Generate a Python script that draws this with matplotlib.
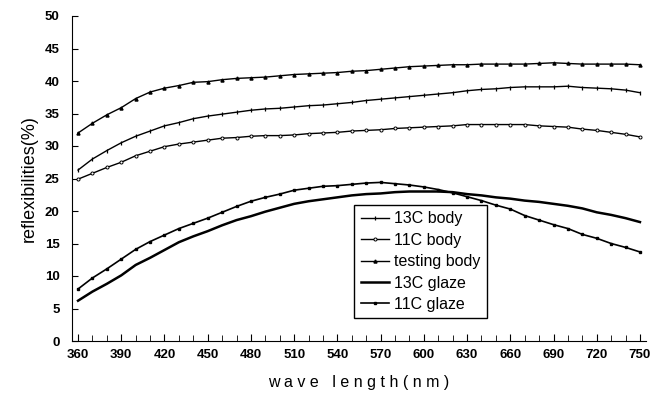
import matplotlib
matplotlib.use('Agg')
import matplotlib.pyplot as plt
from matplotlib.ticker import MultipleLocator

plt.rcParams['font.family'] = ['Liberation Sans', 'DejaVu Sans']

# wavelength grid (nm)
wave = list(range(360, 751, 10))

body_13c = [26.3, 28.0, 29.3, 30.5, 31.5, 32.3, 33.1, 33.6, 34.2, 34.6,
            34.9, 35.2, 35.5, 35.7, 35.8, 36.0, 36.2, 36.3, 36.5, 36.7,
            37.0, 37.2, 37.4, 37.6, 37.8, 38.0, 38.2, 38.5, 38.7, 38.8,
            39.0, 39.1, 39.1, 39.1, 39.2, 39.0, 38.9, 38.8, 38.6, 38.2]
body_11c = [24.9, 25.8, 26.7, 27.5, 28.5, 29.2, 29.9, 30.3, 30.6, 30.9,
            31.2, 31.3, 31.5, 31.6, 31.6, 31.7, 31.9, 32.0, 32.1, 32.3,
            32.4, 32.5, 32.7, 32.8, 32.9, 33.0, 33.1, 33.3, 33.3, 33.3,
            33.3, 33.3, 33.1, 33.0, 32.9, 32.6, 32.4, 32.1, 31.8, 31.4]
testing_body = [32.0, 33.5, 34.8, 35.9, 37.3, 38.3, 38.9, 39.3, 39.8, 39.9,
                40.2, 40.4, 40.5, 40.6, 40.8, 41.0, 41.1, 41.2, 41.3, 41.5,
                41.6, 41.8, 42.0, 42.2, 42.3, 42.4, 42.5, 42.5, 42.6, 42.6,
                42.6, 42.6, 42.7, 42.8, 42.7, 42.6, 42.6, 42.6, 42.6, 42.5]
glaze_13c = [6.2, 7.6, 8.8, 10.1, 11.7, 12.8, 14.0, 15.2, 16.1, 16.9,
             17.8, 18.6, 19.2, 19.9, 20.5, 21.1, 21.5, 21.8, 22.1, 22.4,
             22.6, 22.7, 22.9, 23.0, 23.0, 23.0, 22.9, 22.6, 22.4, 22.1,
             21.9, 21.6, 21.4, 21.1, 20.8, 20.4, 19.8, 19.4, 18.9, 18.3]
glaze_11c = [8.0, 9.7, 11.1, 12.6, 14.1, 15.3, 16.3, 17.3, 18.1, 18.9,
             19.8, 20.7, 21.5, 22.1, 22.6, 23.2, 23.5, 23.8, 23.9, 24.1,
             24.3, 24.4, 24.2, 24.0, 23.7, 23.3, 22.8, 22.2, 21.6, 20.9,
             20.3, 19.3, 18.6, 17.9, 17.3, 16.4, 15.8, 15.0, 14.4, 13.7]

fig = plt.figure(figsize=(6.58, 3.94), dpi=100)
ax = fig.add_axes([72 / 658, 1 - 341 / 394, 574 / 658, 325 / 394])

ax.plot(wave, body_13c, color='black', lw=1.0, marker='|', ms=3.5, mew=0.9,
        label='13C body')
ax.plot(wave, body_11c, color='black', lw=1.0, marker='o', ms=2.2,
        mfc='white', mew=0.7, label='11C body')
ax.plot(wave, testing_body, color='black', lw=1.0, marker='^', ms=2.2,
        label='testing body')
ax.plot(wave, glaze_13c, color='black', lw=1.8, label='13C glaze')
ax.plot(wave, glaze_11c, color='black', lw=1.2, marker='s', ms=2.0,
        label='11C glaze')

ax.set_xlim(355.8, 754.2)
ax.set_ylim(0, 50)
ax.xaxis.set_major_locator(MultipleLocator(30))
ax.xaxis.set_minor_locator(MultipleLocator(10))
ax.yaxis.set_major_locator(MultipleLocator(5))
ax.tick_params(axis='both', which='both', direction='in', labelsize=9.5)
ax.tick_params(axis='x', which='major', length=5, pad=6)
ax.tick_params(axis='x', which='minor', length=4)
ax.tick_params(axis='y', length=4, pad=9)
for lbl in ax.get_xticklabels() + ax.get_yticklabels():
    lbl.set_fontweight('bold')

ax.spines['top'].set_visible(False)
ax.spines['right'].set_visible(False)

ax.set_xlabel('w a v e   l e n g t h ( n m )', fontsize=11.5, labelpad=10)
ax.set_ylabel('reflexibilities(%)', fontsize=13, labelpad=5)

leg = ax.legend(loc='lower left', bbox_to_anchor=(0.478, 0.045),
                fancybox=False, edgecolor='black', framealpha=1,
                fontsize=11.5, handlelength=1.8, handletextpad=0.3,
                labelspacing=0.4, borderpad=0.4)
leg.get_frame().set_linewidth(1.0)

fig.savefig('out.png', dpi=100)
